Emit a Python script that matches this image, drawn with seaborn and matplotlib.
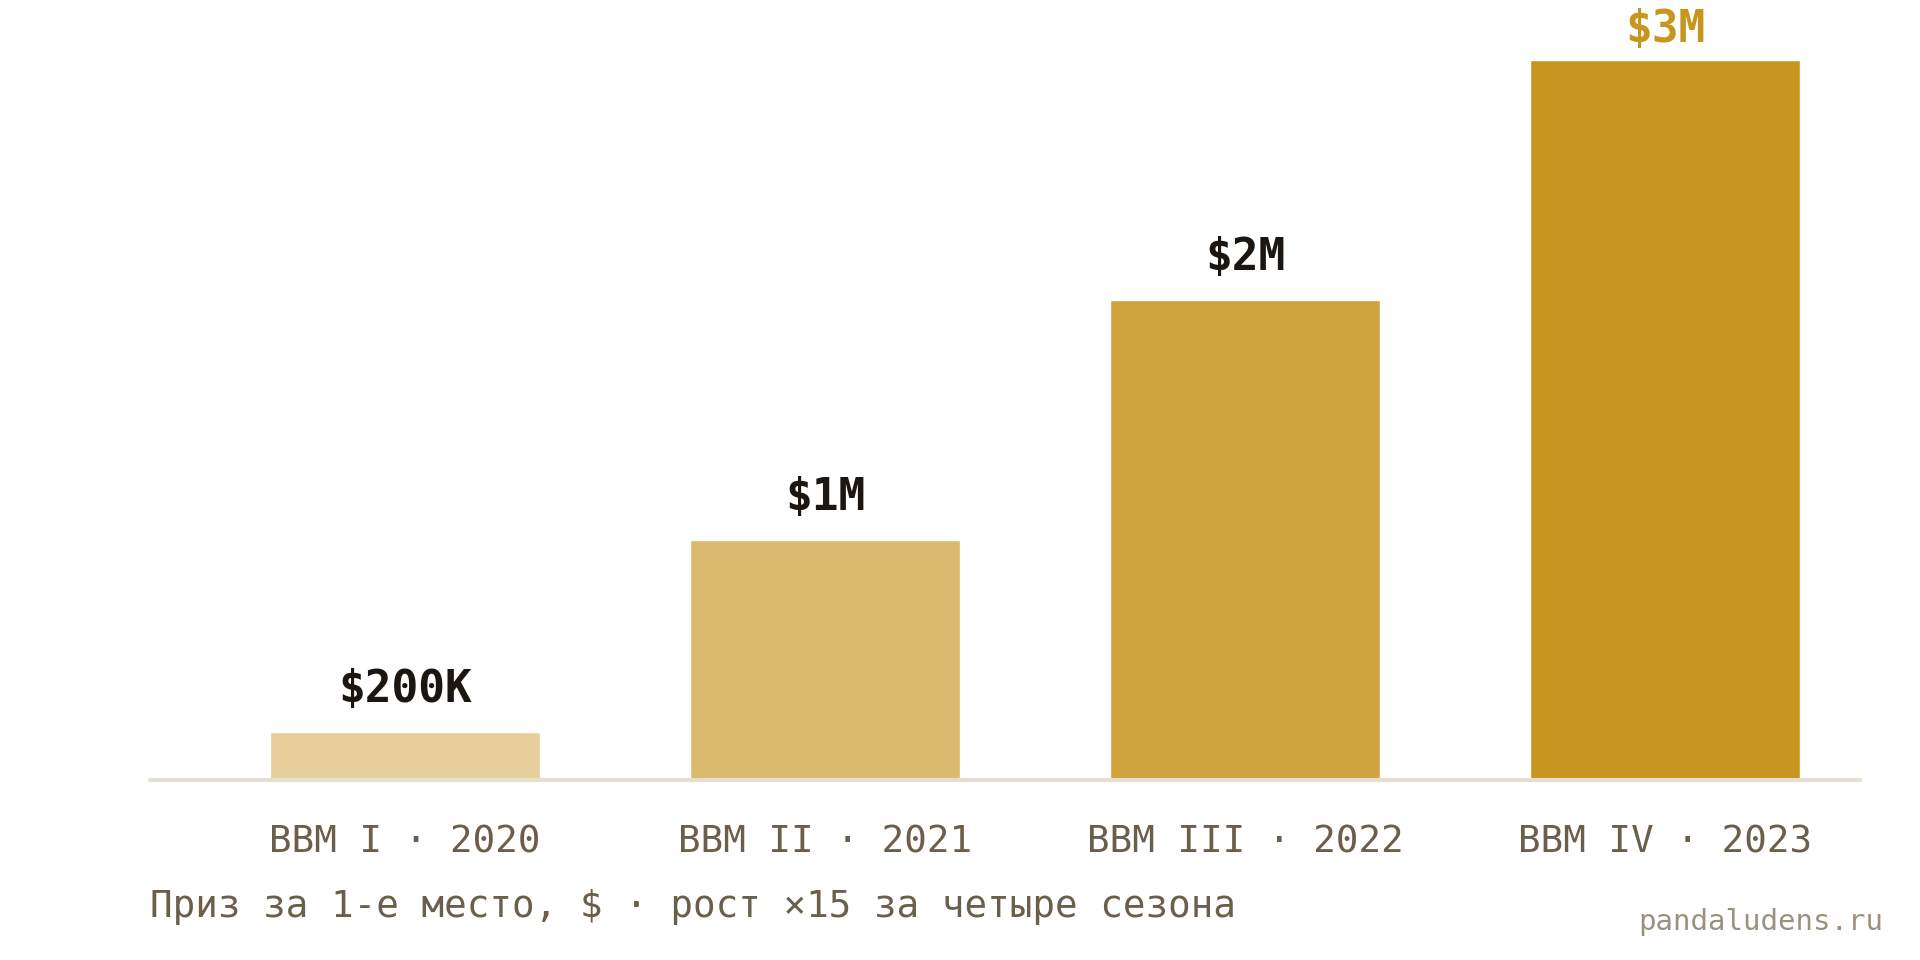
import matplotlib
matplotlib.use("Agg")
import matplotlib.pyplot as plt
import seaborn as sns
import pandas as pd

# ---- data ----
categories = ["BBM I · 2020", "BBM II · 2021", "BBM III · 2022", "BBM IV · 2023"]
prize_musd = [0.2, 1.0, 2.0, 3.0]
value_labels = ["$200K", "$1M", "$2M", "$3M"]
bar_colors = ["#e6cf9b", "#dbba6f", "#cfa43f", "#c8961f"]
label_colors = ["#1c1610", "#1c1610", "#1c1610", "#c8961f"]
caption = "Приз за 1-е место, $ · рост ×15 за четыре сезона"
credit = "pandaludens.ru"

df = pd.DataFrame({"season": categories, "prize": prize_musd})

sns.set_theme(style="white")
plt.rcParams["font.family"] = ["DejaVu Sans Mono", "DejaVu Sans"]

fig = plt.figure(figsize=(19.2, 9.6), dpi=100)
fig.patch.set_facecolor("white")
ax = fig.add_axes([150 / 1920, 180 / 960, 1710 / 1920, 780 / 960])

sns.barplot(data=df, x="season", y="prize", hue="season", palette=bar_colors,
            width=0.643, saturation=1, legend=False, ax=ax, zorder=2)

ax.set_xlim(-0.607, 3.464)
ax.set_ylim(0, 3.25)
ax.axhline(0, color="#e4dfd0", lw=3, zorder=3, clip_on=False)

for i, (v, lab, c) in enumerate(zip(prize_musd, value_labels, label_colors)):
    y = min(v + 0.125, 3.075)
    ax.text(i, y, lab, ha="center", va="baseline", fontsize=32,
            fontweight="bold", color=c, zorder=4)

for s in ax.spines.values():
    s.set_visible(False)
ax.set_yticks([])
ax.set_xlabel("")
ax.set_ylabel("")
ax.tick_params(axis="x", length=0, pad=32, labelsize=27, labelcolor="#6b5e4b")
ax.set_facecolor("white")

fig.text(150 / 1920, 43 / 960, caption, ha="left", va="baseline",
         fontsize=27, color="#6b5e4b")
fig.text(1883 / 1920, 30 / 960, credit, ha="right", va="baseline",
         fontsize=21, color="#9c917f")

fig.savefig("out.png", dpi=100, facecolor="white")
